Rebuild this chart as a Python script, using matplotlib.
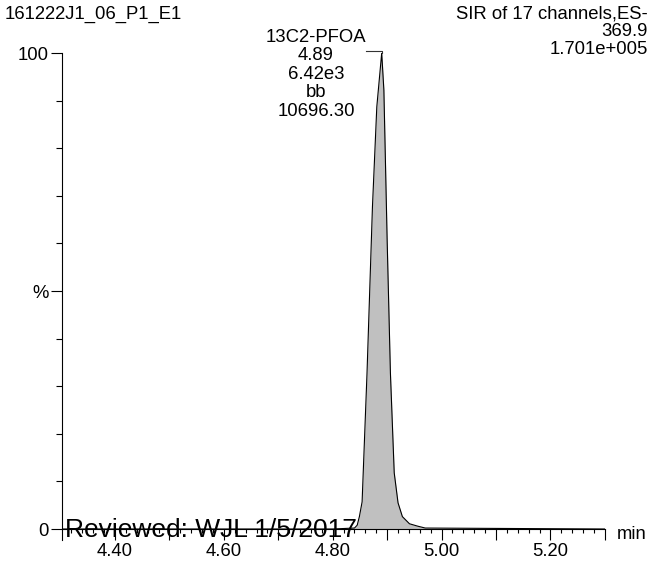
import matplotlib
matplotlib.use("Agg")
import matplotlib.pyplot as plt
import numpy as np
from matplotlib.ticker import FixedLocator, FixedFormatter

# chromatogram trace (retention time in min, relative intensity in %)
times = [4.303, 4.800, 4.840, 4.845, 4.849, 4.854, 4.863, 4.873, 4.881, 4.890,
         4.894, 4.900, 4.906, 4.913, 4.920, 4.928, 4.941, 4.956, 4.970, 5.300]
intensity = [0, 0, 0.2, 0.8, 2.6, 5.7, 32.7, 67.7, 88.7, 100,
             92.2, 60.7, 32.8, 11.8, 5.5, 2.6, 1.1, 0.6, 0.2, 0]

sample_name = "161222J1_06_P1_E1"
header_lines = ["SIR of 17 channels,ES-", "369.9", "1.701e+005"]
peak_lines = ["13C2-PFOA", "4.89", "6.42e3", "bb", "10696.30"]
peak_rt = 4.89
stamp = "Reviewed: WJL 1/5/2017"

x_major = np.round(np.arange(4.4, 5.31, 0.1), 2)
x_minor = np.round(np.arange(4.32, 5.30, 0.02), 2)
x_labels = ["%.2f" % v if round(v * 10) % 2 == 0 else "" for v in x_major]
y_major = [0, 50, 100]
y_major_labels = ["0", "%", "100"]
y_minor = [10, 20, 30, 40, 60, 70, 80, 90]

plt.rcParams['font.family'] = ['Liberation Sans', 'DejaVu Sans']
FS = 13.3
W, H = 653, 565

fig = plt.figure(figsize=(W / 100, H / 100), dpi=100)
ax = fig.add_axes([62 / W, (H - 529) / H, 543 / W, 476 / H])

ax.fill_between(times, intensity, 0, color='#c0c0c0', linewidth=0)
ax.plot(times, intensity, color='black', lw=0.8)
ax.set_xlim(4.3027, 5.3002)
ax.set_ylim(0, 100)

for s in ['top', 'right']:
    ax.spines[s].set_visible(False)
ax.spines['left'].set_bounds(-2.3, 100)
ax.spines['left'].set_linewidth(0.8)
ax.spines['bottom'].set_linewidth(0.8)

ax.xaxis.set_major_locator(FixedLocator(x_major))
ax.xaxis.set_major_formatter(FixedFormatter(x_labels))
ax.xaxis.set_minor_locator(FixedLocator(x_minor))
ax.yaxis.set_major_locator(FixedLocator(y_major))
ax.yaxis.set_major_formatter(FixedFormatter(y_major_labels))
ax.yaxis.set_minor_locator(FixedLocator(y_minor))
ax.tick_params(axis='x', which='major', length=7.9, width=0.8, pad=2.5, labelsize=FS)
ax.tick_params(axis='x', which='minor', length=2.9, width=0.8)
ax.tick_params(axis='y', which='major', length=7.9, width=0.8, pad=1.5, labelsize=FS)
ax.tick_params(axis='y', which='minor', length=4.3, width=0.8)

# leader line from label to peak apex
ax.plot([4.8606, peak_rt, peak_rt], [100.4, 100.4, 100], color='#333333', lw=0.8, clip_on=False)


def px(x, y):
    return x / W, 1 - y / H


fig.text(*px(5, 18.5), sample_name, fontsize=FS, va='baseline', ha='left')
for i, line in enumerate(header_lines):
    fig.text(*px(648, 18.5 + 18 * i), line, fontsize=FS, va='baseline', ha='right')
for i, line in enumerate(peak_lines):
    fig.text(*px(316, 41.5 + 18.5 * i), line, fontsize=FS, va='baseline', ha='center')
fig.text(*px(617, 539), "min", fontsize=FS, va='baseline', ha='left')
fig.text(*px(65, 537), stamp, fontsize=19, va='baseline', ha='left')

fig.savefig("out.png", dpi=100)
